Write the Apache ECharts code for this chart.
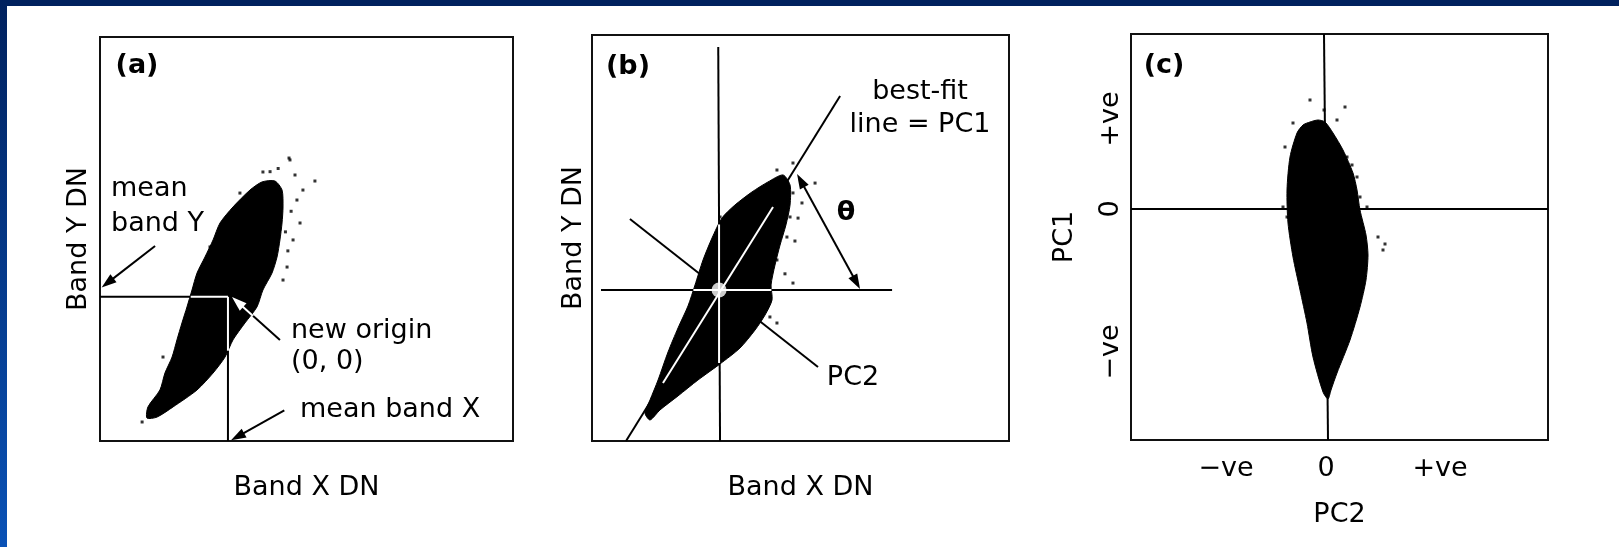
<!DOCTYPE html>
<html>
<head>
<meta charset="utf-8">
<script src="https://cdn.jsdelivr.net/npm/echarts@6/dist/echarts.min.js"></script>
<style>
html,body{margin:0;padding:0;background:#fff;}
#chart{width:1619px;height:547px;}
</style>
</head>
<body>
<div id="chart"></div>
<script>
// ---------- Panel (a): Band X DN vs Band Y DN (0..255) ----------
const meanA = [79, 91];
const cloudA = [[92.6,158.4],[100.0,163.5],[108.0,164.1],[112.4,158.4],[113.0,147.7],[112.4,137.6],[111.1,126.9],[109.3,116.1],[106.2,106.0],[100.6,95.3],[96.9,84.6],[89.5,74.5],[82.1,63.8],[77.2,53.0],[69.8,42.9],[59.9,32.2],[45.1,21.5],[35.2,15.1],[29.0,14.5],[29.6,21.5],[37.0,32.2],[40.1,42.9],[44.5,53.0],[47.5,63.8],[50.6,74.5],[53.7,84.6],[56.8,95.3],[59.9,106.0],[64.8,116.1],[69.8,126.9],[74.1,137.6],[82.1,147.7]];
const speckA = [[117.3,177.4],[120.4,167.9],[125.3,158.4],[123.5,137.6],[119.2,126.9],[115.5,109.8],[100.6,169.8],[86.4,156.5],[67.9,122.5],[121.6,152.1],[113.0,101.6],[38.9,53.0],[132.7,164.1],[116.7,178.6],[118.0,145.0],[116.0,120.0],[105.0,170.0],[26.0,12.0],[114.5,132.0],[110.0,172.0]];
const linesA = [[0,91,79,91],[79,91,79,0]];
const whiteLinesA = [[56,91,79,91],[79,91,79,57]];
const arrowsA = [[34.0,123.1,1.0,96.9],[111.1,63.8,81.5,90.9],[113.8,19.3,80.9,0.4]];
const whiteArrowsA = [[94.5,78.9,81.5,90.9]];

// ---------- Panel (b) ----------
const originB = [[77.7,94.8]];
const cloudB = [[87.4,148.2],[97.8,156.4],[107.6,162.7],[116.8,167.1],[121.1,160.8],[121.1,148.2],[118.6,135.7],[115.0,123.1],[111.9,110.5],[109.5,98.0],[110.1,88.6],[105.8,79.1],[99.7,69.7],[90.5,58.4],[78.3,48.4],[64.8,38.3],[52.6,28.3],[41.6,19.5],[35.5,13.2],[32.4,17.6],[35.5,25.8],[40.4,38.3],[46.5,55.9],[52.6,71.0],[58.7,84.8],[63.0,98.0],[67.9,113.7],[73.4,127.5],[79.5,140.1]];
const speckB = [[119.2,162.0],[122.9,155.8],[121.1,140.7],[119.2,128.1],[113.1,113.7],[122.9,99.2],[115.0,130.6],[107.0,84.2],[108.8,77.9],[122.9,174.6],[113.1,170.2],[78.3,140.7],[43.4,40.2],[113.1,74.1],[136.4,162.0],[128.4,149.5],[124.1,125.6],[126.0,140.0],[118.0,105.0]];
const linesB = [[77.2,247.5,78.3,0],[5.5,94.8,183.5,94.8],[20.8,0,151.7,216.7],[23.2,139.4,138.2,46.5]];
const whiteLinesB = [[77.7,136,77.7,49],[62,94.8,109.7,94.8],[43.4,36.4,110.7,147.0]];
const thetaArrowB = [[125.4,167.7,163.9,95.5]];

// ---------- Panel (c): PC2 vs PC1 ----------
const cloudC = [[-1.6,8.7],[-0.8,8.9],[-0.1,8.7],[0.7,7.6],[1.7,5.9],[2.7,3.6],[3.1,1.9],[3.4,-0.1],[4.0,-2.6],[4.2,-4.6],[4.0,-7.1],[3.4,-9.8],[2.4,-13.1],[1.1,-16.4],[0.5,-18.1],[0.2,-19.0],[-0.3,-18.3],[-1.3,-14.8],[-1.9,-11.4],[-2.6,-8.1],[-3.3,-4.8],[-3.8,-1.4],[-3.9,1.9],[-3.6,5.2],[-2.9,7.6],[-2.3,8.4]];
const speckC = [[-1.6,10.9],[1.9,10.2],[-3.3,8.6],[-4.1,6.2],[1.1,8.9],[2.1,5.2],[3.1,3.2],[3.4,1.2],[4.1,0.2],[5.2,-2.8],[5.7,-4.1],[-4.3,0.2],[-3.9,-0.8],[-0.2,9.9],[5.9,-3.5],[2.6,4.4]];
const linesC = [[-0.2,17.5,0.2,-23.1],[-19.5,0,22.2,0]];
const pc2TickValues = [-10, 0, 11.4];
const pc2TickLabels = ['\u2212ve', '0', '+ve'];
const pc1TickValues = [-14.3, 0, 9.0];
const pc1TickLabels = ['\u2212ve', '0', '+ve'];

// ---------- rendering ----------
const FONT = 'DejaVu Sans';
const FS = 27;
const chart = echarts.init(document.getElementById('chart'), null, {renderer: 'canvas'});

function segSeries(gi, data, color, width) {
  return {
    type: 'custom', xAxisIndex: gi, yAxisIndex: gi, silent: true,
    encode: {x: [0, 2], y: [1, 3]},
    data: data,
    renderItem: function (params, api) {
      const p1 = api.coord([api.value(0), api.value(1)]);
      const p2 = api.coord([api.value(2), api.value(3)]);
      return {type: 'line', shape: {x1: p1[0], y1: p1[1], x2: p2[0], y2: p2[1]},
        style: {stroke: color, lineWidth: width}};
    }
  };
}
function arrowSeries(gi, data, color, both) {
  return {
    type: 'custom', xAxisIndex: gi, yAxisIndex: gi, silent: true,
    encode: {x: [0, 2], y: [1, 3]},
    data: data,
    renderItem: function (params, api) {
      const p1 = api.coord([api.value(0), api.value(1)]);
      const p2 = api.coord([api.value(2), api.value(3)]);
      const dx = p2[0] - p1[0], dy = p2[1] - p1[1];
      const len = Math.hypot(dx, dy), ux = dx / len, uy = dy / len;
      const L = 15, W = 5;
      const head = function (t, sx, sy) {
        return {type: 'polygon', shape: {points: [
          [t[0], t[1]],
          [t[0] - sx * L - sy * W, t[1] - sy * L + sx * W],
          [t[0] - sx * L + sy * W, t[1] - sy * L - sx * W]
        ]}, style: {fill: color}};
      };
      const a = both ? [p1[0] + ux * L * 0.8, p1[1] + uy * L * 0.8] : p1;
      const b = [p2[0] - ux * L * 0.8, p2[1] - uy * L * 0.8];
      const children = [
        {type: 'line', shape: {x1: a[0], y1: a[1], x2: b[0], y2: b[1]}, style: {stroke: color, lineWidth: 2}},
        head(p2, ux, uy)
      ];
      if (both) children.push(head(p1, -ux, -uy));
      return {type: 'group', children: children};
    }
  };
}
function cloudSeries(gi, pts) {
  return {
    type: 'custom', xAxisIndex: gi, yAxisIndex: gi, silent: true,
    encode: {x: 0, y: 1},
    data: pts,
    renderItem: function (params, api) {
      if (params.dataIndex !== 0) return null;
      const poly = pts.map(function (p) { return api.coord(p); });
      return {type: 'polygon', shape: {points: poly, smooth: 0.25},
        style: {fill: '#000', stroke: '#000', lineWidth: 1}};
    }
  };
}
function speckSeries(gi, pts, size, color) {
  return {type: 'scatter', xAxisIndex: gi, yAxisIndex: gi, silent: true,
    data: pts, symbol: 'rect', symbolSize: size, itemStyle: {color: color || '#000'}};
}
function lbl(text, x, y, align, bold) {
  return {type: 'text', x: x, y: y, silent: true, style: {
    text: text, font: (bold ? 'bold ' : '') + FS + 'px "' + FONT + '"', fill: '#000',
    align: align || 'center', verticalAlign: 'middle',
    textAlign: align || 'center', textVerticalAlign: 'middle'}};
}
const nameStyle = {fontFamily: FONT, fontSize: FS, color: '#000'};
function plainAxis(gi, min, max, name, gap) {
  return {gridIndex: gi, type: 'value', min: min, max: max, name: name,
    nameLocation: 'middle', nameGap: gap, nameTextStyle: nameStyle,
    axisLine: {show: false}, axisTick: {show: false}, axisLabel: {show: false}, splitLine: {show: false}};
}
function pickLabel(values, labels, v) {
  let best = 0, bd = Infinity;
  values.forEach(function (t, i) { const d = Math.abs(t - v); if (d < bd) { bd = d; best = i; } });
  return labels[best];
}
const gridStyle = {show: true, borderColor: '#111', borderWidth: 2, backgroundColor: 'rgba(0,0,0,0)'};

const xA = [plainAxis(0, 0, 255, 'Band X DN', 33), plainAxis(1, 0, 255, 'Band X DN', 33),
  Object.assign(plainAxis(2, -19.5, 22.2, 'PC2', 61), {
    axisLabel: {show: true, customValues: pc2TickValues, margin: 15,
      fontFamily: FONT, fontSize: FS, color: '#000',
      formatter: function (v) { return pickLabel(pc2TickValues, pc2TickLabels, v); }}})];
const yA = [plainAxis(0, 0, 255, 'Band Y DN', 8), plainAxis(1, 0, 255, 'Band Y DN', 5),
  Object.assign(plainAxis(2, -23.1, 17.5, 'PC1', 53), {
    axisLabel: {show: true, customValues: pc1TickValues, margin: 7, rotate: 90,
      fontFamily: FONT, fontSize: FS, color: '#000',
      formatter: function (v) { return pickLabel(pc1TickValues, pc1TickLabels, v); }}})];

const option = {
  animation: false,
  backgroundColor: '#fff',
  grid: [
    Object.assign({left: 100, top: 37, width: 413, height: 404}, gridStyle),
    Object.assign({left: 592, top: 35, width: 417, height: 406}, gridStyle),
    Object.assign({left: 1131, top: 34, width: 417, height: 406}, gridStyle)
  ],
  xAxis: xA,
  yAxis: yA,
  graphic: [
    {type: 'rect', silent: true, shape: {x: 0, y: 0, width: 1619, height: 6}, style: {fill: '#00215e'}},
    {type: 'rect', silent: true, shape: {x: 0, y: 0, width: 7, height: 547},
      style: {fill: new echarts.graphic.LinearGradient(0, 0, 0, 1, [{offset: 0, color: '#00215e'}, {offset: 1, color: '#0a52b6'}])}},
    lbl('(a)', 137, 66, 'center', true),
    lbl('mean', 111, 189, 'left'),
    lbl('band Y', 111, 224, 'left'),
    lbl('new origin', 291, 331, 'left'),
    lbl('(0, 0)', 291, 362, 'left'),
    lbl('mean band X', 300, 410, 'left'),
    lbl('(b)', 628, 67, 'center', true),
    lbl('best-fit', 920, 92, 'center'),
    lbl('line = PC1', 920, 125, 'center'),
    lbl('\u03b8', 846, 213, 'center', true),
    lbl('PC2', 853, 378, 'center'),
    lbl('(c)', 1164, 66, 'center', true)
  ],
  series: [
    // panel (a)
    segSeries(0, linesA, '#000', 2),
    arrowSeries(0, arrowsA, '#000', false),
    cloudSeries(0, cloudA),
    speckSeries(0, speckA, 3),
    segSeries(0, whiteLinesA, '#fff', 2),
    arrowSeries(0, whiteArrowsA, '#fff', false),
    // panel (b)
    segSeries(1, linesB, '#000', 2),
    arrowSeries(1, thetaArrowB, '#000', true),
    cloudSeries(1, cloudB),
    speckSeries(1, speckB, 3),
    segSeries(1, whiteLinesB, '#fff', 2),
    speckSeries(1, originB, 15, '#fff'),
    // panel (c)
    segSeries(2, linesC, '#000', 2),
    cloudSeries(2, cloudC),
    speckSeries(2, speckC, 3)
  ]
};
// white dot is round
option.series[11].symbol = 'circle';
chart.setOption(option);
</script>
</body>
</html>
